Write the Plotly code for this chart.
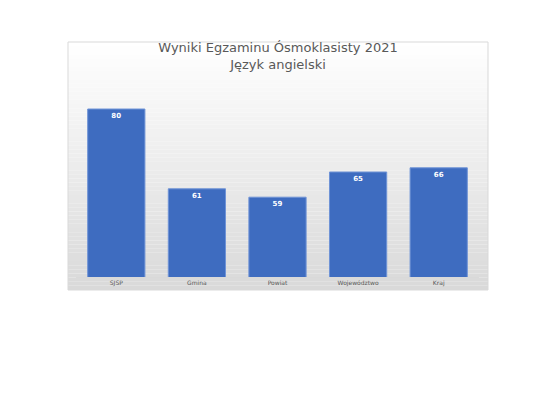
import plotly.graph_objects as go

categories = ["SJSP", "Gmina", "Powiat", "Województwo", "Kraj"]
values = [80, 61, 59, 65, 66]

W, H = 555, 400
dx, dy = 7, 7  # page offset seen in the render
ml, mr, mt, mb = 75 - dx, 77 + dx, 66 - dy, 124 + dy
pw, ph = W - ml - mr, H - mt - mb

fig = go.Figure(go.Bar(
    x=categories,
    y=values,
    width=0.71,
    marker=dict(color="#3e6cc0", line=dict(color="#6f93d6", width=1)),
    text=values,
    textposition="inside",
    insidetextanchor="end",
    texttemplate="<b>%{text}</b>",
    textfont=dict(color="white", size=7, family="DejaVu Sans"),
    textangle=0,
))

# panel background with a soft vertical gradient
x0 = (67 - dx - ml) / pw
x1 = (487 - dx - ml) / pw
top_px, bot_px = 41 - dy, 289 - dy
n = 60
shapes = []
for i in range(n):
    p0 = top_px + (bot_px - top_px) * i / n
    p1 = top_px + (bot_px - top_px) * (i + 1) / n
    g = int(round(255 - 38 * i / (n - 1)))
    shapes.append(dict(
        type="rect", xref="paper", yref="paper", layer="below",
        x0=x0, x1=x1,
        y0=(H - mb - p1) / ph, y1=(H - mb - p0) / ph,
        fillcolor=f"rgb({g},{g},{g})", line=dict(width=0),
    ))
shapes.append(dict(
    type="rect", xref="paper", yref="paper", layer="below",
    x0=x0, x1=x1, y0=(H - mb - bot_px) / ph, y1=(H - mb - top_px) / ph,
    line=dict(color="#d9d9d9", width=1),
))

fig.update_layout(
    width=W, height=H,
    margin=dict(l=ml, r=mr, t=mt, b=mb),
    paper_bgcolor="white",
    plot_bgcolor="rgba(0,0,0,0)",
    shapes=shapes,
    showlegend=False,
    title=dict(
        text="Wyniki Egzaminu Ósmoklasisty 2021<br>Język angielski",
        x=(277 - dx) / W, xanchor="center", y=1 - (51 - dy) / H, yanchor="top",
        font=dict(size=13, color="#595959", family="DejaVu Sans"),
    ),
    xaxis=dict(
        showgrid=False, showline=True, linecolor="#d9d9d9",
        ticks="", tickfont=dict(size=6, color="#595959", family="DejaVu Sans"),
    ),
    yaxis=dict(range=[40, 90], visible=False),
)

fig.write_html("out.html")
